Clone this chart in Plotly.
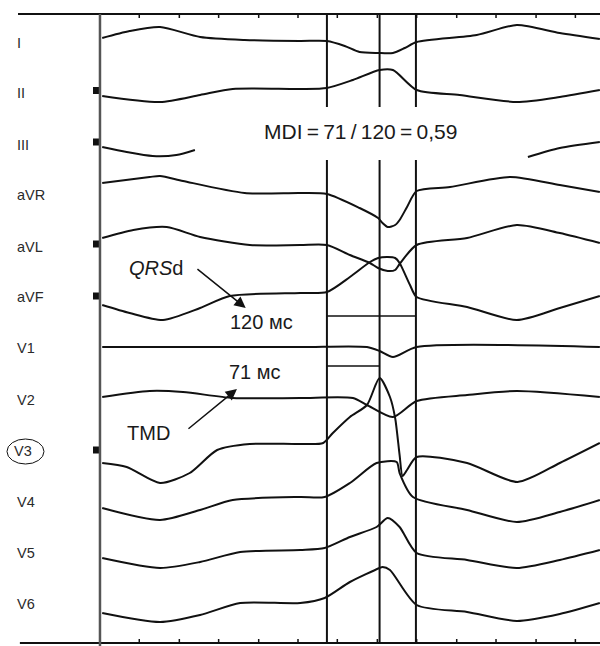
import plotly.graph_objects as go

# ---------------- data (time in ms, amplitude in mm, positive up) ----------------
LEADS = ["I", "II", "III", "aVR", "aVL", "aVF", "V1", "V2", "V3", "V4", "V5", "V6"]

I_t = [3, 40, 81, 135, 195, 270, 306, 330, 350, 375, 395, 411, 427, 508, 562, 620, 674]
I_v = [0.3, 1.0, 1.4, 0.4, 0.1, 0, 0, -0.5, -1.1, -1.2, -1.2, -0.7, -0.1, 0.6, 1.6, 0.8, 0.2]

II_t = [3, 81, 135, 179, 270, 306, 341, 377, 395, 427, 485, 562, 620, 674]
II_v = [-0.7, -1.3, -0.6, 0, 0, 0.1, 0.9, 1.9, 1.9, -0.1, -0.6, -1.3, -0.8, -0.1]

III_t = [3, 36, 71, 103, 128, None, 577, 620, 674]
III_v = [-0.1, -0.6, -1.0, -0.9, -0.4, None, -1.1, -0.2, 0.4]

aVR_t = [3, 67, 81, 112, 195, 270, 306, 350, 375, 381, 388, 398, 404, 414, 427, 472, 553, 620, 674]
aVR_v = [1.0, 1.6, 1.7, 1.2, 0, 0, -0.1, -1.5, -2.5, -3.0, -3.4, -3.2, -2.7, -1.4, 0.2, 0.6, 1.6, 0.8, 0.1]

aVL_t = [3, 45, 90, 135, 202, 270, 306, 337, 364, 375, 388, 398, 404, 427, 495, 562, 620, 674]
aVL_v = [0.7, 1.5, 1.8, 0.8, 0, 0, 0, -1.0, -1.8, -2.3, -2.6, -2.5, -1.9, 0, 0.7, 2.0, 1.2, 0.2]

aVF_t = [3, 40, 85, 135, 175, 270, 306, 337, 364, 375, 388, 398, 404, 418, 427, 495, 562, 620, 674]
aVF_v = [-1.2, -2.0, -2.7, -1.5, -0.3, 0, 0.1, 1.6, 3.1, 3.5, 3.6, 3.5, 3.0, 0.8, -0.4, -1.4, -2.7, -1.5, -0.3]

V1_t = [3, 270, 360, 377, 395, 427, 674]
V1_v = [0, 0, 0, -0.4, -1.0, 0, 0]

V2_t = [3, 67, 112, 179, 270, 341, 360, 395, 427, 495, 562, 674]
V2_v = [0.1, 0.7, 0.6, 0, 0, 0, -0.7, -1.9, -0.3, 0.3, 0.7, 0.1]

V3_t = [3, 36, 81, 121, 158, 202, 270, 301, 314, 337, 360, 377, 391, 398, 404, 408, 414, 427, 495, 563, 620, 674]
V3_v = [-1.9, -2.3, -3.9, -2.9, -0.6, 0, 0, 0.1, 1.1, 2.7, 3.9, 6.6, 4.7, 2.6, -1.1, -3.2, -2.6, -1.3, -1.9, -3.8, -1.9, 0.1]

V4_t = [3, 81, 135, 179, 270, 303, 337, 373, 400, 404, 422, 495, 562, 620, 674]
V4_v = [-1.1, -2.3, -1.3, -0.3, 0, 0, 1.4, 3.4, 3.5, 2.4, 0, -1.3, -2.5, -1.5, -0.3]

V5_t = [3, 81, 135, 189, 270, 303, 337, 373, 388, 404, 427, 495, 562, 620, 674]
V5_v = [-0.8, -1.8, -1.2, -0.2, 0, 0.2, 1.3, 2.3, 3.2, 2.3, -0.3, -1.0, -1.8, -1.0, 0]

V6_t = [3, 81, 135, 189, 270, 303, 337, 377, 381, 391, 427, 495, 562, 620, 674]
V6_v = [-1.0, -1.9, -1.2, 0, 0, 0.5, 2.1, 3.5, 3.6, 3.3, -0.2, -0.9, -1.8, -1.1, 0]

QRS_ONSET = 306          # ms
TMD = 71                 # ms
QRSD = 120               # ms
MDI_TEXT = "MDI\u2009=\u200971\u2009/\u2009120\u2009=\u20090,59"
TICK_TIMES = [53, 107, 160, 214, 267, 320, 374, 427, 481, 534, 588, 641]
CAL_LEADS = ["II", "III", "aVL", "aVF", "V3"]

# ---------------- layout (positions / styles) ----------------
BASE = {"I": -4.1, "II": -8.9, "III": -14.6, "aVR": -19.3, "aVL": -24.5, "aVF": -29.3,
        "V1": -34.7, "V2": -39.8, "V3": -44.4, "V4": -49.7, "V5": -55.0, "V6": -60.3}
LABEL_Y = {"I": -4.3, "II": -9.3, "III": -14.5, "aVR": -19.5, "aVL": -24.7, "aVF": -29.7,
           "V1": -34.8, "V2": -40.0, "V3": -45.1, "V4": -50.2, "V5": -55.3, "V6": -60.4}
CAL_Y = {"II": -9.05, "III": -14.2, "aVL": -24.4, "aVF": -29.6, "V3": -45.0}

series = {"I": (I_t, I_v), "II": (II_t, II_v), "III": (III_t, III_v), "aVR": (aVR_t, aVR_v),
          "aVL": (aVL_t, aVL_v), "aVF": (aVF_t, aVF_v), "V1": (V1_t, V1_v), "V2": (V2_t, V2_v),
          "V3": (V3_t, V3_v), "V4": (V4_t, V4_v), "V5": (V5_t, V5_v), "V6": (V6_t, V6_v)}

X0, X1 = -134.8, 674.2
Y_TOP, Y_BOT = -1.4, -64.3
INK = "#111111"

fig = go.Figure()
for lead in LEADS:
    t, v = series[lead]
    y = [None if a is None else BASE[lead] + a for a in v]
    fig.add_trace(go.Scatter(x=t, y=y, mode="lines",
                             line=dict(color=INK, width=2, shape="spline", smoothing=0.7),
                             hoverinfo="skip", showlegend=False))

fig.add_trace(go.Scatter(x=[-4.7] * len(CAL_LEADS), y=[CAL_Y[l] for l in CAL_LEADS], mode="markers",
                         marker=dict(symbol="square", size=7, color=INK), showlegend=False,
                         hoverinfo="skip"))

shapes = []
shapes.append(dict(type="line", x0=-110.5, x1=X1, y0=Y_TOP, y1=Y_TOP, line=dict(color=INK, width=2)))
shapes.append(dict(type="line", x0=-108, x1=X1, y0=Y_BOT, y1=Y_BOT, line=dict(color=INK, width=2)))
shapes.append(dict(type="line", x0=0, x1=0, y0=Y_TOP, y1=-64.6, line=dict(color="#555555", width=2.5)))
for tt in TICK_TIMES:
    shapes.append(dict(type="line", x0=tt, x1=tt, y0=Y_TOP, y1=Y_TOP - 0.4, line=dict(color=INK, width=1.5)))
    shapes.append(dict(type="line", x0=tt, x1=tt, y0=Y_BOT, y1=Y_BOT + 0.4, line=dict(color=INK, width=1.5)))
for xm in [QRS_ONSET, QRS_ONSET + TMD, QRS_ONSET + QRSD]:
    shapes.append(dict(type="line", x0=xm, x1=xm, y0=Y_TOP, y1=-10.7, line=dict(color=INK, width=2)))
    shapes.append(dict(type="line", x0=xm, x1=xm, y0=-16.0, y1=Y_BOT, line=dict(color=INK, width=2)))
shapes.append(dict(type="line", x0=QRS_ONSET, x1=QRS_ONSET + QRSD, y0=-31.6, y1=-31.6, line=dict(color=INK, width=1.5)))
shapes.append(dict(type="line", x0=QRS_ONSET, x1=QRS_ONSET + TMD, y0=-36.6, y1=-36.6, line=dict(color=INK, width=1.5)))
shapes.append(dict(type="circle", x0=-125.4, x1=-75.5, y0=-43.9, y1=-46.4, line=dict(color=INK, width=1)))

annotations = []
for lead in LEADS:
    annotations.append(dict(x=-114.6 if lead != "V3" else -118.5, y=LABEL_Y[lead], text=lead, showarrow=False,
                            xanchor="left", yanchor="middle",
                            font=dict(family="Liberation Sans, Arial", size=14.5, color="#2a2a2a")))
TXT = dict(family="Liberation Sans, Arial", size=20, color="#1a1a1a")
annotations += [
    dict(x=218.4, y=-13.1, text=MDI_TEXT, showarrow=False, xanchor="left", yanchor="middle",
         font=dict(family="Liberation Sans, Arial", size=21, color="#1a1a1a")),
    dict(x=36.4, y=-26.8, text="<i>QRS</i>d", showarrow=False, xanchor="left", yanchor="middle", font=TXT),
    dict(x=172.5, y=-32.2, text="120 мс", showarrow=False, xanchor="left", yanchor="middle", font=TXT),
    dict(x=171.2, y=-37.2, text="71 мс", showarrow=False, xanchor="left", yanchor="middle", font=TXT),
    dict(x=33.7, y=-43.3, text="TMD", showarrow=False, xanchor="left", yanchor="middle", font=TXT),
    dict(x=196.5, y=-30.8, ax=129.4, ay=-26.8, axref="x", ayref="y", text="", showarrow=True,
         arrowhead=2, arrowsize=1.5, arrowwidth=1.5, arrowcolor=INK),
    dict(x=184.7, y=-38.9, ax=117.3, ay=-43.0, axref="x", ayref="y", text="", showarrow=True,
         arrowhead=2, arrowsize=1.5, arrowwidth=1.5, arrowcolor=INK),
]

fig.update_layout(width=600, height=646, margin=dict(l=0, r=0, t=0, b=0),
                  paper_bgcolor="white", plot_bgcolor="white",
                  xaxis=dict(range=[X0, X1], visible=False, fixedrange=True),
                  yaxis=dict(range=[-64.6, 0], visible=False, fixedrange=True),
                  shapes=shapes, annotations=annotations, showlegend=False)

fig.write_html("out.html", config={"displayModeBar": False, "staticPlot": True},
               post_script="document.body.style.margin='0';")
